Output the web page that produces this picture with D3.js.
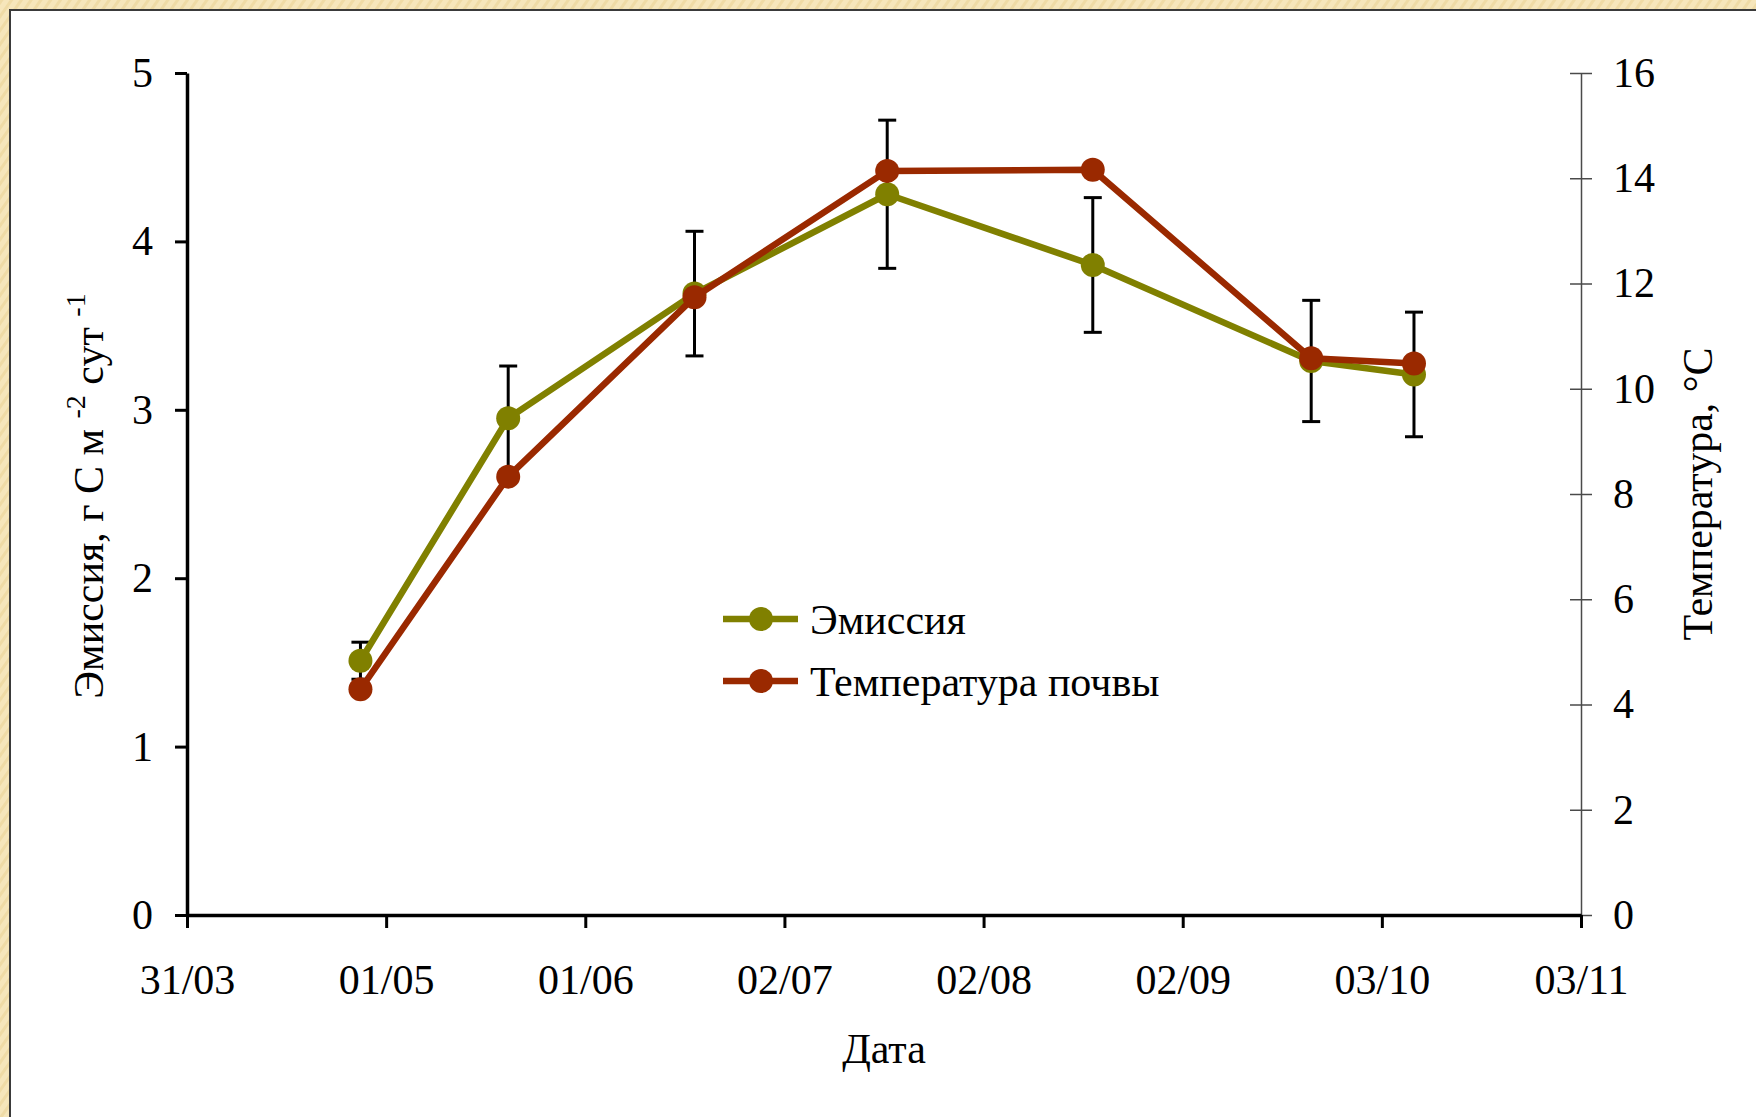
<!DOCTYPE html>
<html>
<head>
<meta charset="utf-8">
<script src="https://cdn.jsdelivr.net/npm/d3@7/dist/d3.min.js"></script>
<style>
  html, body { margin: 0; padding: 0; background: #f5e5b9; }
  svg { display: block; }
  text { font-family: "Liberation Serif", "Times New Roman", serif; fill: #000; }
</style>
</head>
<body>
<svg id="chart" width="1756" height="1117"></svg>
<script>
// Sampling dates (soil CO2 emission survey, one season)
const sampleDates = ["2010-04-27", "2010-05-20", "2010-06-18", "2010-07-18", "2010-08-19", "2010-09-22", "2010-10-08"];
// Emission, g C m-2 day-1, with its error
const emission = [1.51, 2.95, 3.69, 4.28, 3.86, 3.29, 3.21];
const emissionErr = [0.11, 0.31, 0.37, 0.44, 0.40, 0.36, 0.37];
// Soil temperature, °C
const soilTemp = [4.29, 8.33, 11.74, 14.14, 14.16, 10.58, 10.48];

// Axis ticks
const xTickDates = ["2010-03-31", "2010-05-01", "2010-06-01", "2010-07-02", "2010-08-02", "2010-09-02", "2010-10-03", "2010-11-03"];
const yLeftTicks = [0, 1, 2, 3, 4, 5];
const yRightTicks = [0, 2, 4, 6, 8, 10, 12, 14, 16];

const seriesNames = ["Эмиссия", "Температура почвы"];
const seriesColors = ["#808000", "#9a2900"];

const parse = d3.utcParse("%Y-%m-%d");
const fmt = d3.utcFormat("%d/%m");

const svg = d3.select("#chart");
const W = 1756, H = 1117;
const plot = { left: 187, right: 1581, top: 73, bottom: 915 };

// Textured frame background
const defs = svg.append("defs");
const pat = defs.append("pattern")
  .attr("id", "frameTex").attr("width", 8).attr("height", 8)
  .attr("patternUnits", "userSpaceOnUse")
  .attr("patternTransform", "rotate(35)");
pat.append("rect").attr("width", 8).attr("height", 8).attr("fill", "#f6e6bb");
pat.append("rect").attr("width", 3).attr("height", 8).attr("fill", "#efdba6");
svg.append("rect").attr("width", W).attr("height", H).attr("fill", "url(#frameTex)");

// White chart panel
svg.append("rect")
  .attr("x", 10).attr("y", 10).attr("width", W).attr("height", H)
  .attr("fill", "#fff").attr("stroke", "#3a3a3a").attr("stroke-width", 2);

const x = d3.scaleUtc()
  .domain([parse(xTickDates[0]), parse(xTickDates[xTickDates.length - 1])])
  .range([plot.left, plot.right]);
const yL = d3.scaleLinear().domain([0, 5]).range([plot.bottom, plot.top]);
const yR = d3.scaleLinear().domain([0, 16]).range([plot.bottom, plot.top]);

// Right (temperature) axis: thin grey with crossing ticks
const gR = svg.append("g")
  .attr("transform", `translate(${plot.right},0)`)
  .call(d3.axisRight(yR).tickValues(yRightTicks).tickFormat(d3.format("d"))
    .tickSize(11).tickSizeOuter(0).tickPadding(21));
gR.select(".domain").attr("stroke", "#4a4a4a").attr("stroke-width", 1.5);
gR.selectAll(".tick line").attr("x1", -11).attr("x2", 11).attr("stroke", "#4a4a4a").attr("stroke-width", 1.5);
gR.selectAll(".tick text").attr("font-size", 42).attr("font-family", null);

// Left (emission) axis
const gL = svg.append("g")
  .attr("transform", `translate(${plot.left},0)`)
  .call(d3.axisLeft(yL).tickValues(yLeftTicks).tickFormat(d3.format("d"))
    .tickSize(12).tickSizeOuter(0).tickPadding(22));
gL.select(".domain").attr("stroke", "#000").attr("stroke-width", 3.5);
gL.selectAll(".tick line").attr("stroke", "#000").attr("stroke-width", 3);
gL.selectAll(".tick text").attr("font-size", 42).attr("font-family", null);

// Date axis
const gX = svg.append("g")
  .attr("transform", `translate(0,${plot.bottom})`)
  .call(d3.axisBottom(x).tickValues(xTickDates.map(parse)).tickFormat(fmt).tickSize(13).tickSizeOuter(0));
gX.select(".domain").attr("stroke", "#000").attr("stroke-width", 3.5);
gX.selectAll(".tick line").attr("stroke", "#000").attr("stroke-width", 3);
gX.selectAll(".tick text").attr("font-size", 42).attr("font-family", null)
  .attr("y", 79).attr("dy", 0);

// Axis titles
svg.append("text")
  .attr("x", (plot.left + plot.right) / 2).attr("y", 1063)
  .attr("text-anchor", "middle").attr("font-size", 42).text("Дата");

const yTitle = svg.append("text")
  .attr("transform", `translate(103,${(plot.top + plot.bottom) / 2 + 2}) rotate(-90)`)
  .attr("text-anchor", "middle").attr("font-size", 42);
yTitle.append("tspan").text("Эмиссия, г С м ");
yTitle.append("tspan").attr("font-size", 28).attr("dy", -18).text("-2");
yTitle.append("tspan").attr("dy", 18).text(" сут ");
yTitle.append("tspan").attr("font-size", 28).attr("dy", -18).text("-1");

svg.append("text")
  .attr("transform", `translate(1712,${(plot.top + plot.bottom) / 2}) rotate(-90)`)
  .attr("text-anchor", "middle").attr("font-size", 42).text("Температура, °C");

// Data rows
const rows = sampleDates.map((d, i) => ({
  date: parse(d), em: emission[i], err: emissionErr[i], t: soilTemp[i]
}));

// Error bars for emission
const eb = svg.append("g").attr("stroke", "#000").attr("stroke-width", 3);
rows.forEach(r => {
  const cx = x(r.date), y1 = yL(r.em + r.err), y2 = yL(r.em - r.err);
  eb.append("line").attr("x1", cx).attr("x2", cx).attr("y1", y1).attr("y2", y2);
  eb.append("line").attr("x1", cx - 9).attr("x2", cx + 9).attr("y1", y1).attr("y2", y1);
  eb.append("line").attr("x1", cx - 9).attr("x2", cx + 9).attr("y1", y2).attr("y2", y2);
});

function drawSeries(acc, yScale, color) {
  const g = svg.append("g");
  g.append("path")
    .datum(rows)
    .attr("fill", "none").attr("stroke", color).attr("stroke-width", 6.5)
    .attr("stroke-linejoin", "round")
    .attr("d", d3.line().x(r => x(r.date)).y(r => yScale(acc(r))));
  g.selectAll("circle").data(rows).join("circle")
    .attr("cx", r => x(r.date)).attr("cy", r => yScale(acc(r)))
    .attr("r", 12).attr("fill", color);
}
drawSeries(r => r.em, yL, seriesColors[0]);
drawSeries(r => r.t, yR, seriesColors[1]);

// Legend
const legend = svg.append("g");
seriesNames.forEach((name, i) => {
  const ly = 619 + i * 62;
  legend.append("line").attr("x1", 723).attr("x2", 798).attr("y1", ly).attr("y2", ly)
    .attr("stroke", seriesColors[i]).attr("stroke-width", 6.5);
  legend.append("circle").attr("cx", 761).attr("cy", ly).attr("r", 12).attr("fill", seriesColors[i]);
  legend.append("text").attr("x", 810).attr("y", ly + 15).attr("font-size", 42).text(name);
});
</script>
</body>
</html>
